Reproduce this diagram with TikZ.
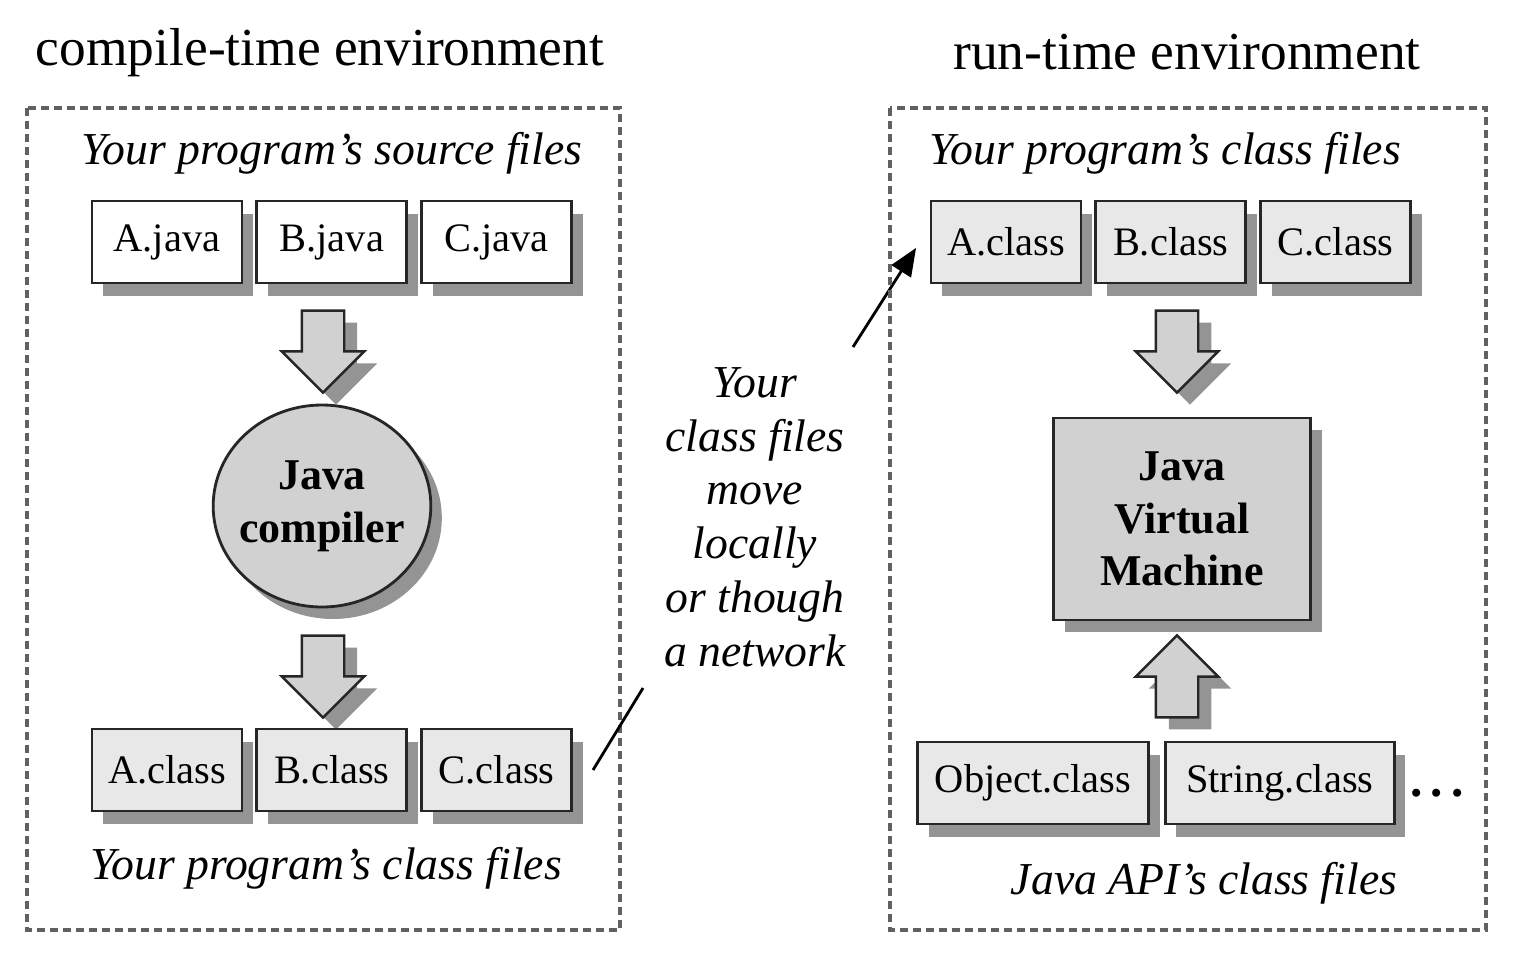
\documentclass[tikz,border=0pt]{standalone}
\usepackage{fontspec}
\setmainfont{Liberation Serif}
\usetikzlibrary{positioning}
\usetikzlibrary{arrows}
\usetikzlibrary{shapes.geometric}
\usetikzlibrary{shapes.arrows}
\usetikzlibrary{shadows}

\definecolor{shadowgray}{gray}{0.58}
\definecolor{classgray}{gray}{0.91}
\definecolor{coregray}{gray}{0.82}
\definecolor{framegray}{gray}{0.38}

\begin{document}
\begin{tikzpicture}[x=0.1mm, y=-0.1mm]
    	\tikzstyle{filebox} = 
    	[draw = black!85,
    	line width = 0.8pt,
    	minimum width = 15mm,
    	minimum height = 8.2mm,
    	inner sep = 0pt,
    	font = \fontsize{11.5}{13}\selectfont,
    	drop shadow = {shadow xshift=1.1mm,shadow yshift=-1.3mm,fill=shadowgray,opacity=1}
    	]
    	\tikzstyle{classbox} = [filebox, fill = classgray]
    	\tikzstyle{javabox} = [filebox, fill = white]
    	\tikzstyle{corebox} = 
    	[draw = black!85,
    	line width = 0.8pt,
    	fill = coregray,
    	align = center,
    	font = \fontsize{12.5}{15}\selectfont\bfseries,
    	drop shadow = {shadow xshift=1.1mm,shadow yshift=-1.2mm,fill=shadowgray,opacity=1}
    	]
    	\tikzstyle{blockarrow} = 
    	[single arrow,
    	draw = black!85,
    	line width = 0.7pt,
    	fill = coregray,
    	inner sep = 2mm,
    	minimum height = 8.2mm,
    	minimum width = 8mm,
    	single arrow head extend = 2mm,
    	drop shadow = {shadow xshift=1.3mm,shadow yshift=-1.2mm,fill=shadowgray,opacity=1}
    	]
    	\tikzstyle{envframe} = 
    	[draw = framegray,
    	line width = 0.9pt,
    	dash pattern = on 0.8mm off 0.5mm]
    	\tikzstyle{envtitle} = [font = \fontsize{15.2}{18}\selectfont]
    	\tikzstyle{filelabel} = [font = \fontsize{13}{15}\selectfont\itshape]
    	
    	\useasboundingbox (0,0) rectangle (1524,960);
    	
    	% compile-time side
    	\node[envtitle] (ctitle) at (320,53) {compile-time environment};
    	\draw[envframe] (27,108) rectangle (620,930);
    	\node[filelabel] (srclabel) at (332,153) {Your program’s source files};
    	\node[javabox] (ajava) at (167,242) {A.java};
    	\node[javabox, right = 1.2mm of ajava] (bjava) {B.java};
    	\node[javabox, right = 1.2mm of bjava] (cjava) {C.java};
    	\node[blockarrow, shape border rotate = 270] (arrsrc) at (323,341) {};
    	\node[corebox, ellipse, minimum width = 21.6mm, minimum height = 20.2mm, inner xsep = -0.6mm, inner ysep = 0pt]
    		(compiler) at (322,506) {Java\\compiler};
    	\node[blockarrow, shape border rotate = 270] (arrcls) at (323,666) {};
    	\node[classbox] (aclass) at (167,770) {A.class};
    	\node[classbox, right = 1.2mm of aclass] (bclass) {B.class};
    	\node[classbox, right = 1.2mm of bclass] (cclass) {C.class};
    	\node[filelabel] (clslabel) at (326,868) {Your program’s class files};
    	
    	% moving the class files
    	\node[filelabel, align = center, font = \fontsize{13}{15.3}\selectfont\itshape]
    		(movetext) at (755,517) {Your\\class files\\move\\locally\\or though\\a network};
    	\coordinate (netA) at (593,770);
    	\coordinate (netB) at (643,688);
    	\coordinate (netC) at (853,347);
    	\coordinate (netD) at (916,248);
    	\draw[line width = 0.8pt] (netA) -- (netB);
    	\draw[line width = 0.8pt, -triangle 45] (netC) -- (netD);
    	
    	% run-time side
    	\node[envtitle] (rtitle) at (1187,52) {run-time environment};
    	\draw[envframe] (890,108) rectangle (1486,930);
    	\node[filelabel] (rclslabel) at (1165,153) {Your program’s class files};
    	\node[classbox] (raclass) at (1006,242) {A.class};
    	\node[classbox, right = 1.2mm of raclass] (rbclass) {B.class};
    	\node[classbox, right = 1.2mm of rbclass] (rcclass) {C.class};
    	\node[blockarrow, shape border rotate = 270] (arrjvm) at (1177,341) {};
    	\node[corebox, minimum width = 25.7mm, minimum height = 20.2mm, inner sep = 0pt]
    		(jvm) at (1182,519) {Java\\Virtual\\Machine};
    	\node[blockarrow, shape border rotate = 90] (arrapi) at (1177,687) {};
    	\node[classbox, minimum width = 23.1mm] (objclass) at (1033,783) {Object.class};
    	\node[classbox, minimum width = 22.9mm, right = 1.4mm of objclass] (strclass) {String.class};
    	\node[font = \fontsize{14}{16}\selectfont\bfseries, right = 0.2mm of strclass, yshift = -1mm]
    		(moreclass) {.\,.\,.};
    	\node[filelabel] (apilabel) at (1204,883) {Java API’s class files};
\end{tikzpicture}
\end{document}
